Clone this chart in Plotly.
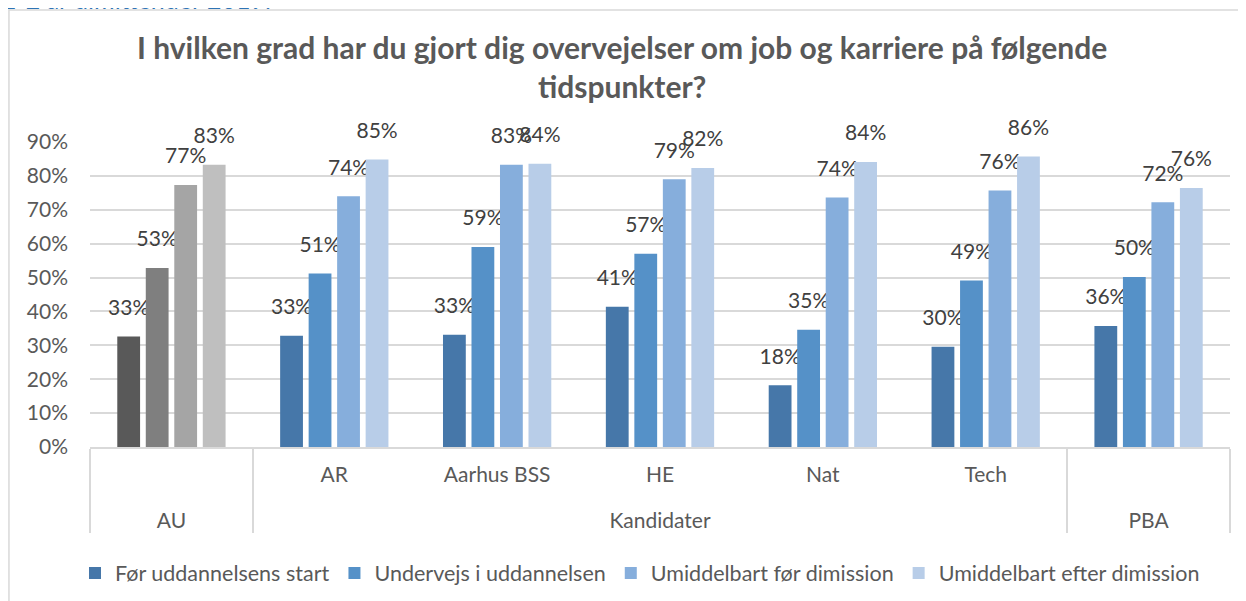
import plotly.graph_objects as go

title = 'I hvilken grad har du gjort dig overvejelser om job og karriere på følgende<br>tidspunkter?'
series = ['Før uddannelsens start', 'Undervejs i uddannelsen',
          'Umiddelbart før dimission', 'Umiddelbart efter dimission']

outer = ['<br>Kandidater'] * 5 + ['<br>PBA']
inner = ['AR', 'Aarhus BSS', 'HE', 'Nat', 'Tech', ' ']

# AU (total) values, drawn in grey
au_vals = [0.326, 0.528, 0.773, 0.833]

# rows = series, cols = AR, Aarhus BSS, HE, Nat, Tech, PBA
s1 = [0.328, 0.331, 0.414, 0.182, 0.296, 0.357]
s2 = [0.512, 0.590, 0.570, 0.346, 0.491, 0.502]
s3 = [0.740, 0.833, 0.790, 0.736, 0.757, 0.722]
s4 = [0.848, 0.836, 0.823, 0.841, 0.857, 0.764]
vals = [s1, s2, s3, s4]

blues = ['#4677A9', '#5591C8', '#86AEDC', '#B8CDE8']
greys = ['#595959', '#7F7F7F', '#A5A5A5', '#BFBFBF']

FONT = 'Lato'
TXT = '#595959'

# big label on top, small blank line below it to lift the label off the bar
label_tpl = "<span style='font-size:21px'>%{text}</span><br> "

fig = go.Figure()

for i in range(4):
    fig.add_trace(go.Bar(
        x=[['<br>AU'], [' ']], y=[au_vals[i]],
        marker=dict(color=greys[i], line=dict(width=0)),
        offsetgroup=str(i), showlegend=False,
        text=[f'{round(au_vals[i]*100)}%'], texttemplate=label_tpl,
        textposition='outside', constraintext='none', cliponaxis=False,
        textfont=dict(family=FONT, size=12, color='#404040'),
        hoverinfo='skip',
    ))
    fig.add_trace(go.Bar(
        x=[outer, inner], y=vals[i], name=series[i],
        marker=dict(color=blues[i], line=dict(width=0)),
        offsetgroup=str(i),
        text=[f'{round(v*100)}%' for v in vals[i]], texttemplate=label_tpl,
        textposition='outside', constraintext='none', cliponaxis=False,
        textfont=dict(family=FONT, size=12, color='#404040'),
    ))

# page body adds an 8px offset, so the figure is 8px smaller than the window
fig.update_layout(
    width=1238, height=593,
    barmode='group', bargap=0.3, bargroupgap=0.2,
    margin=dict(l=82, r=16, t=134, b=154, autoexpand=False),
    paper_bgcolor='white', plot_bgcolor='white',
    font=dict(family=FONT, size=21, color=TXT),
    xaxis=dict(
        type='multicategory',
        showline=True, linecolor='#D9D9D9', linewidth=1.5,
        showgrid=False, ticks='',
        ticklabelstandoff=8,
        showdividers=True, dividercolor='#D9D9D9', dividerwidth=1.5,
        tickfont=dict(family=FONT, size=21, color=TXT),
    ),
    yaxis=dict(
        range=[0, 0.9], dtick=0.1, tickformat='.0%',
        showgrid=True, gridcolor='#D9D9D9', gridwidth=1.5,
        zeroline=False, showline=False, ticks='',
        ticklabelstandoff=21,
        tickfont=dict(family=FONT, size=21, color=TXT),
    ),
    legend=dict(orientation='h', xref='container', yref='container',
                x=0.5105, xanchor='center', y=0.047, yanchor='middle',
                font=dict(family=FONT, size=21.5, color=TXT),
                itemwidth=30, tracegroupgap=0),
    shapes=[dict(type='rect', xref='paper', yref='paper',
                 x0=-0.0711, x1=1.3, y0=-1.0, y1=1.4328,
                 line=dict(color='#D9D9D9', width=1.5), layer='below')],
    annotations=[
        dict(text='1-2 år dimittender 2019.', xref='paper', yref='paper',
             x=-0.079, y=1.414, xanchor='left', yanchor='bottom',
             showarrow=False,
             font=dict(family=FONT, size=25, color='#2E74B5')),
        dict(text='<b>' + title + '</b>', xref='paper', yref='paper',
             x=0.4667, y=1.249, xanchor='center', yanchor='middle',
             showarrow=False,
             font=dict(family=FONT, size=30, color=TXT)),
    ],
)

fig.write_html('out.html')
